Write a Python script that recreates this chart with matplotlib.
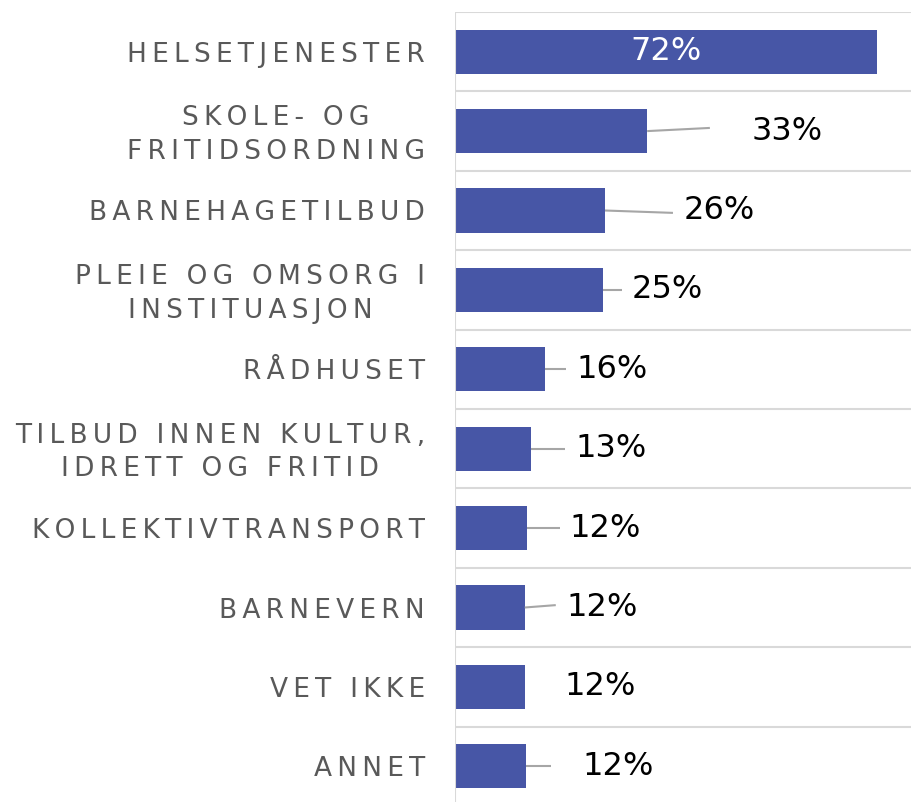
import matplotlib
matplotlib.use("Agg")
import matplotlib.pyplot as plt
import matplotlib.transforms as mtransforms

# values (percent)
categories = ["HELSETJENESTER", "SKOLE- OG\nFRITIDSORDNING", "BARNEHAGETILBUD",
              "PLEIE OG OMSORG I\nINSTITUASJON", "RÅDHUSET",
              "TILBUD INNEN KULTUR,\nIDRETT OG FRITID", "KOLLEKTIVTRANSPORT",
              "BARNEVERN", "VET IKKE", "ANNET"]
values = [72.0, 32.8, 25.6, 25.3, 15.4, 13.0, 12.3, 11.9, 12.0, 12.2]
labels = ["72%", "33%", "26%", "25%", "16%", "13%", "12%", "12%", "12%", "12%"]

# where the outside labels sit (x of text centre) and where the leader ends
label_x = [None, 56.7, 45.1, 36.3, 26.8, 26.6, 25.6, 25.1, 24.7, 27.8]
leader_end = [None, (43.5, -0.04), (37.2, 0.03), (28.5, 0.0), (18.9, 0.0),
              (18.8, 0.0), (17.9, 0.0), (17.2, -0.03), None, (16.4, 0.0)]

bar_color = "#4756a6"
grid_color = "#d9d9d9"


def spaced(s):
    # fake letter spacing with thin spaces
    return "\n".join("\u2009".join(line) for line in s.split("\n"))


fig = plt.figure(figsize=(9.12, 8.02), dpi=100)
ax = fig.add_axes([455 / 912, -4 / 802, 457 / 912, 794 / 802])

n = len(categories)
ys = list(range(n))
ax.barh(ys, values, height=0.555, color=bar_color, zorder=3)
ax.set_xlim(0, 78)
ax.set_ylim(n - 0.5, -0.5)

for b in range(n + 1):
    ax.axhline(b - 0.5, color=grid_color, lw=1.5, zorder=1)
for s in ax.spines.values():
    s.set_visible(False)
ax.axvline(0, color=grid_color, lw=1.5, zorder=4)
ax.set_xticks([])
ax.set_yticks(ys)
ax.set_yticklabels([spaced(c) for c in categories], fontsize=19,
                   color="#595959", multialignment="center", linespacing=1.38)
ax.tick_params(axis="y", length=0, pad=21.6)
# two-line labels sit a touch high in the original
up = mtransforms.ScaledTranslation(0, 3 / 100, fig.dpi_scale_trans)
for t, c in zip(ax.get_yticklabels(), categories):
    if "\n" in c:
        t.set_transform(t.get_transform() + up)

for i in range(n):
    if label_x[i] is None:
        ax.text(values[i] / 2, i, labels[i], color="white", fontsize=23,
                ha="center", va="center", zorder=5)
        continue
    ax.text(label_x[i], i, labels[i], color="black", fontsize=23,
            ha="center", va="center", zorder=5)
    if leader_end[i] is not None:
        ex, ey = leader_end[i]
        ax.plot([values[i], ex], [i, i + ey], color="#a6a6a6", lw=1.5,
                zorder=4, solid_capstyle="butt")

fig.savefig("out.png", dpi=100)
